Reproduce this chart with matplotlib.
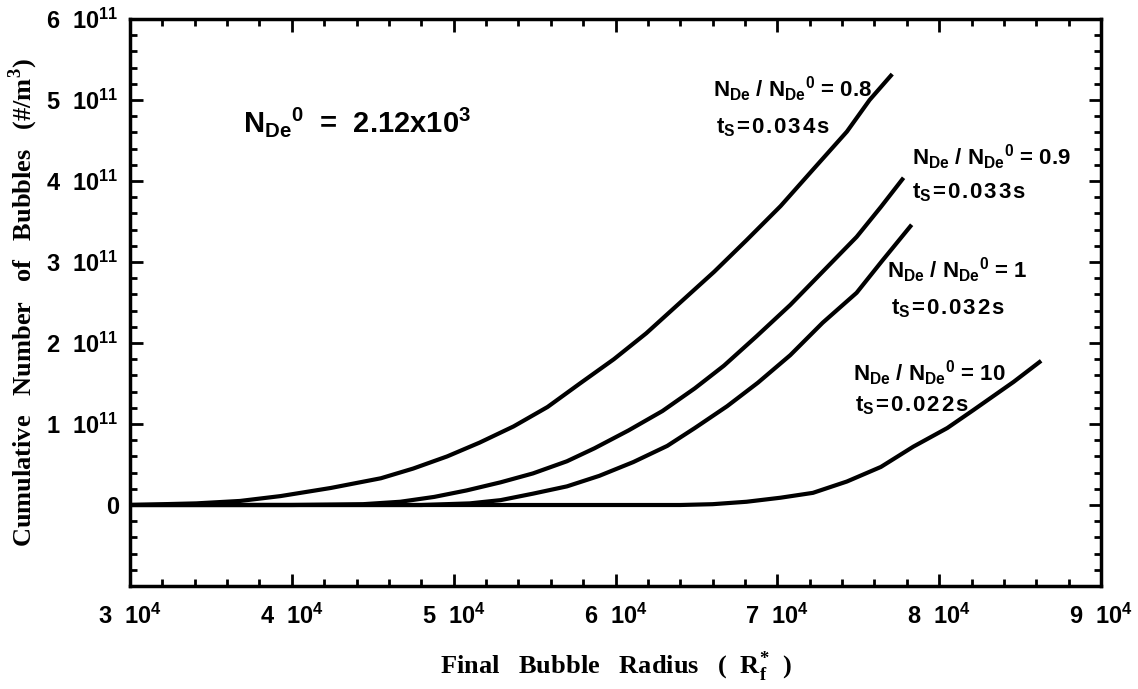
import matplotlib
matplotlib.use("Agg")
import matplotlib.pyplot as plt
from matplotlib.ticker import FixedLocator, FixedFormatter, MultipleLocator

plt.rcParams['font.family'] = ['Liberation Sans', 'DejaVu Sans']
plt.rcParams['mathtext.fontset'] = 'custom'
plt.rcParams['mathtext.rm'] = 'Liberation Sans:bold'
plt.rcParams['mathtext.it'] = 'Liberation Sans:bold'
plt.rcParams['mathtext.bf'] = 'Liberation Sans:bold'
plt.rcParams['mathtext.sf'] = 'Liberation Serif:bold'
plt.rcParams['mathtext.default'] = 'rm'

# ---- data (x in units of 1e4, y in units of 1e11) ----
x_08 = [3.00, 3.41, 3.68, 3.93, 4.24, 4.55, 4.75, 4.96, 5.16, 5.37, 5.58, 5.78, 5.99,
        6.19, 6.40, 6.61, 6.81, 7.02, 7.22, 7.43, 7.57, 7.71]
y_08 = [0.00, 0.02, 0.05, 0.11, 0.21, 0.33, 0.45, 0.60, 0.77, 0.97, 1.21, 1.50, 1.80,
        2.12, 2.50, 2.88, 3.27, 3.69, 4.14, 4.61, 5.00, 5.32]

x_09 = [3.00, 4.00, 4.44, 4.67, 4.88, 5.08, 5.29, 5.49, 5.70, 5.87, 6.08, 6.29, 6.49,
        6.67, 6.87, 7.08, 7.28, 7.49, 7.64, 7.78]
y_09 = [0.00, 0.00, 0.01, 0.04, 0.10, 0.18, 0.28, 0.39, 0.54, 0.70, 0.92, 1.16, 1.44,
        1.72, 2.08, 2.47, 2.88, 3.31, 3.68, 4.04]

x_1 = [3.00, 4.80, 5.10, 5.29, 5.49, 5.70, 5.90, 6.11, 6.32, 6.49, 6.69, 6.88, 7.08,
       7.28, 7.49, 7.65, 7.83]
y_1 = [0.00, 0.00, 0.02, 0.06, 0.14, 0.23, 0.36, 0.53, 0.73, 0.95, 1.22, 1.51, 1.85,
       2.25, 2.62, 3.02, 3.46]

x_10 = [3.00, 6.40, 6.60, 6.81, 7.02, 7.22, 7.43, 7.64, 7.84, 8.05, 8.21, 8.36, 8.46, 8.63]
y_10 = [0.00, 0.00, 0.01, 0.04, 0.09, 0.15, 0.29, 0.47, 0.72, 0.95, 1.17, 1.38, 1.52, 1.78]

ratio_labels = ["0.8", "0.9", "1", "10"]
ts_labels = ["0.034", "0.033", "0.032", "0.022"]

x_tick_vals = [3, 4, 5, 6, 7, 8, 9]
x_tick_labels = ["3  10$^{4}$", "4  10$^{4}$", "5  10$^{4}$", "6  10$^{4}$",
                 "7  10$^{4}$", "8  10$^{4}$", "9  10$^{4}$"]
y_tick_vals = [-1, 0, 1, 2, 3, 4, 5, 6]
y_tick_labels = ["", "0", "1  10$^{11}$", "2  10$^{11}$", "3  10$^{11}$",
                 "4  10$^{11}$", "5  10$^{11}$", "6  10$^{11}$"]

XS = 1e4
YS = 1e11
HS = "\u200a"

fig = plt.figure(figsize=(11.38, 6.89), dpi=100)
ax = fig.add_axes([130/1138, 1-586/689, (1101-130)/1138, (586-19)/689])

for xs, ys in [(x_08, y_08), (x_09, y_09), (x_1, y_1), (x_10, y_10)]:
    ax.plot([v*XS for v in xs], [v*YS for v in ys], color='black', lw=3.0,
            solid_capstyle='butt', solid_joinstyle='round')

ax.set_xlim(3e4, 9e4)
ax.set_ylim(-1e11, 6e11)

ax.xaxis.set_major_locator(FixedLocator([v*XS for v in x_tick_vals]))
ax.xaxis.set_major_formatter(FixedFormatter(x_tick_labels))
ax.xaxis.set_minor_locator(MultipleLocator(2000))
ax.yaxis.set_major_locator(FixedLocator([v*YS for v in y_tick_vals]))
ax.yaxis.set_major_formatter(FixedFormatter(y_tick_labels))
ax.yaxis.set_minor_locator(MultipleLocator(2e10))

ax.tick_params(which='both', direction='in', top=True, right=True, color='black')
ax.tick_params(which='major', length=9, width=2)
ax.tick_params(which='minor', length=5, width=2)
ax.tick_params(axis='x', which='major', pad=13, labelsize=17)
ax.tick_params(axis='y', which='major', pad=8, labelsize=17)
for lab in ax.get_xticklabels() + ax.get_yticklabels():
    lab.set_fontweight('bold')
for sp in ax.spines.values():
    sp.set_linewidth(2.5)

ax.set_xlabel("Final   Bubble   Radius   (  $\\mathsf{R}_{\\mathsf{f}}^{\\mathsf{*}}$  )",
              fontfamily='Liberation Serif', fontweight='bold', fontsize=19)
ax.xaxis.set_label_coords(0.5, -0.112)
ax.set_ylabel("Cumulative   Number   of   Bubbles   (#/m$^{\\mathsf{3}}$)",
              fontfamily='Liberation Serif', fontweight='bold', fontsize=19)
ax.yaxis.set_label_coords(-0.093, 0.5)

ax.text(3.70*XS, 4.60*YS, "$N_{De}{}^{0}$  =  2.12x10$^{3}$", fontsize=21,
        fontweight='bold', ha='left', va='baseline')

lab_pos = [(6.60, 5.04, 6.62, 4.59), (7.83, 4.20, 7.83, 3.79),
           (7.68, 2.80, 7.70, 2.35), (7.47, 1.53, 7.48, 1.15)]
for (xr, yr, xt, yt), r, t in zip(lab_pos, ratio_labels, ts_labels):
    ax.text(xr*XS, yr*YS, "$N_{De}$ / $N_{De}{}^{0}$ = " + r, fontsize=16,
            fontweight='bold', ha='left', va='baseline')
    ts = "t$_{S}$" + HS + "=" + HS + HS.join(list(t + "s"))
    ax.text(xt*XS, yt*YS, ts, fontsize=16,
            fontweight='bold', ha='left', va='baseline')

fig.savefig("out.png", dpi=100)
